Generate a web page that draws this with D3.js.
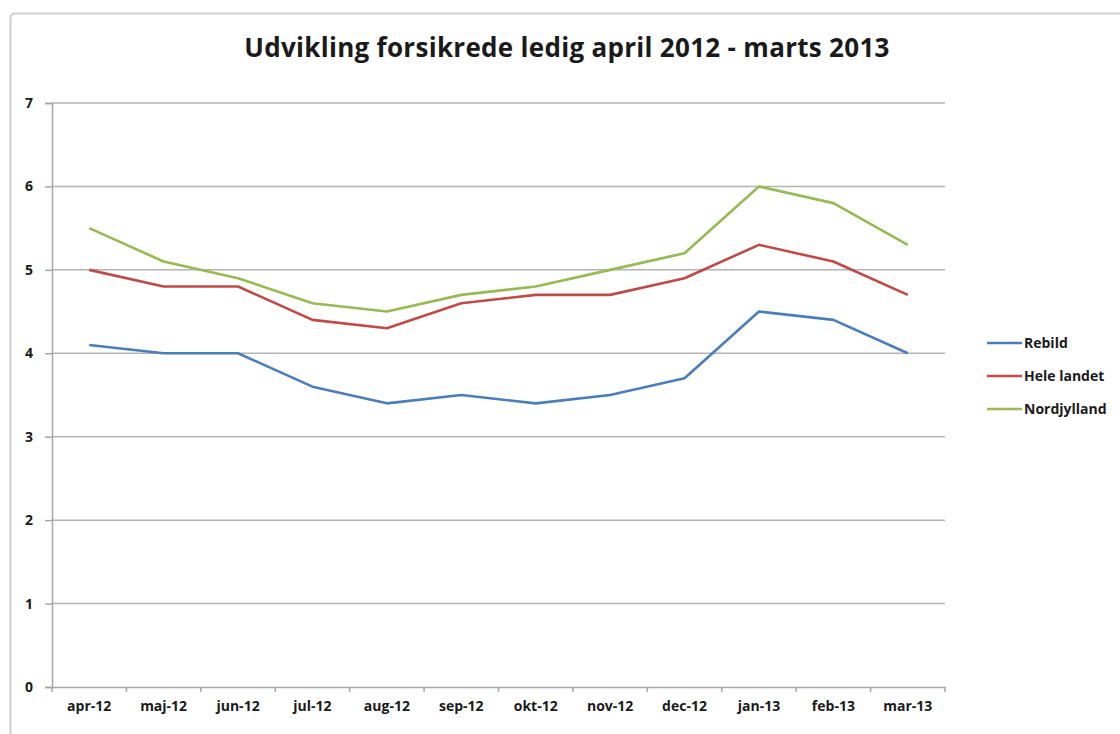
<!DOCTYPE html>
<html>
<head>
<meta charset="utf-8">
<script src="https://cdn.jsdelivr.net/npm/d3@7"></script>
<style>
  body { margin: 0; background: #fff; }
  text { font-family: "Open Sans", "Liberation Sans", sans-serif; fill: #1a1a1a; }
</style>
</head>
<body>
<div id="chart"></div>
<script>
var months = ["apr-12", "maj-12", "jun-12", "jul-12", "aug-12", "sep-12", "okt-12", "nov-12", "dec-12", "jan-13", "feb-13", "mar-13"];
var rebild = [4.1, 4.0, 4.0, 3.6, 3.4, 3.5, 3.4, 3.5, 3.7, 4.5, 4.4, 4.0];
var heleLandet = [5.0, 4.8, 4.8, 4.4, 4.3, 4.6, 4.7, 4.7, 4.9, 5.3, 5.1, 4.7];
var nordjylland = [5.5, 5.1, 4.9, 4.6, 4.5, 4.7, 4.8, 5.0, 5.2, 6.0, 5.8, 5.3];
var seriesNames = ["Rebild", "Hele landet", "Nordjylland"];
var seriesColors = ["#4a7ebb", "#be4b48", "#98b954"];
var yTicks = [0, 1, 2, 3, 4, 5, 6, 7];

var series = [rebild, heleLandet, nordjylland].map(function(v, i) {
    return { name: seriesNames[i], color: seriesColors[i], values: v };
});

var width = 1120, height = 734;
var margin = { top: 103, right: 175, bottom: 47, left: 52 };

var svg = d3.select("#chart").append("svg")
    .attr("width", width)
    .attr("height", height);

// chart area border
svg.append("rect")
    .attr("x", 10.5).attr("y", 13.5)
    .attr("width", 1120).attr("height", 730)
    .attr("rx", 4)
    .attr("fill", "#fff")
    .attr("stroke", "#cfcfcf")
    .attr("stroke-width", 2);

svg.append("text")
    .attr("x", 567).attr("y", 57)
    .attr("text-anchor", "middle")
    .style("font-size", "26px")
    .style("font-weight", "bold")
    .style("letter-spacing", "0.3px")
    .text("Udvikling forsikrede ledig april 2012 - marts 2013");

var x = d3.scaleBand()
    .domain(months)
    .range([margin.left, width - margin.right]);

var y = d3.scaleLinear()
    .domain([0, 7])
    .range([height - margin.bottom, margin.top]);

// gridlines
svg.append("g").selectAll("line")
    .data(yTicks.filter(function(d) { return d > 0; }))
    .enter().append("line")
    .attr("x1", margin.left).attr("x2", width - margin.right)
    .attr("y1", function(d) { return y(d); })
    .attr("y2", function(d) { return y(d); })
    .attr("stroke", "#b3b3b3")
    .attr("stroke-width", 1.5);

var yAxis = svg.append("g")
    .attr("transform", "translate(" + margin.left + ",0)")
    .call(d3.axisLeft(y).tickValues(yTicks).tickFormat(d3.format("d")).tickSize(7).tickPadding(12));

var xAxis = svg.append("g")
    .attr("transform", "translate(0," + y(0) + ")")
    .call(d3.axisBottom(x).tickSize(0).tickPadding(14));

// ticks on category boundaries
xAxis.selectAll(".boundary")
    .data(d3.range(months.length + 1))
    .enter().append("line")
    .attr("class", "boundary")
    .attr("x1", function(i) { return margin.left + i * x.step(); })
    .attr("x2", function(i) { return margin.left + i * x.step(); })
    .attr("y1", 0).attr("y2", 5)
    .attr("stroke", "#a6a6a6")
    .attr("stroke-width", 1.5);

[xAxis, yAxis].forEach(function(a) {
    a.select(".domain").attr("stroke", "#a6a6a6").attr("stroke-width", 1.5);
    a.selectAll(".tick line").attr("stroke", "#a6a6a6").attr("stroke-width", 1.5);
    a.selectAll(".tick text")
        .style("font-family", "'Open Sans', sans-serif")
        .style("font-size", "14px")
        .style("font-weight", "bold")
        .attr("fill", "#1a1a1a");
});

var line = d3.line()
    .x(function(d, i) { return x(months[i]) + x.bandwidth() / 2; })
    .y(function(d) { return y(d); });

svg.append("g").selectAll("path")
    .data(series)
    .enter().append("path")
    .attr("d", function(d) { return line(d.values); })
    .attr("fill", "none")
    .attr("stroke", function(d) { return d.color; })
    .attr("stroke-width", 2.6)
    .attr("stroke-linejoin", "round");

var legend = svg.append("g")
    .attr("transform", "translate(987,343)");

var item = legend.selectAll("g")
    .data(series)
    .enter().append("g")
    .attr("transform", function(d, i) { return "translate(0," + i * 33 + ")"; });

item.append("line")
    .attr("x1", 0).attr("x2", 35)
    .attr("stroke", function(d) { return d.color; })
    .attr("stroke-width", 2.6);

item.append("text")
    .attr("x", 37).attr("dy", "0.35em")
    .style("font-size", "14px")
    .style("font-weight", "bold")
    .text(function(d) { return d.name; });
</script>
</body>
</html>
